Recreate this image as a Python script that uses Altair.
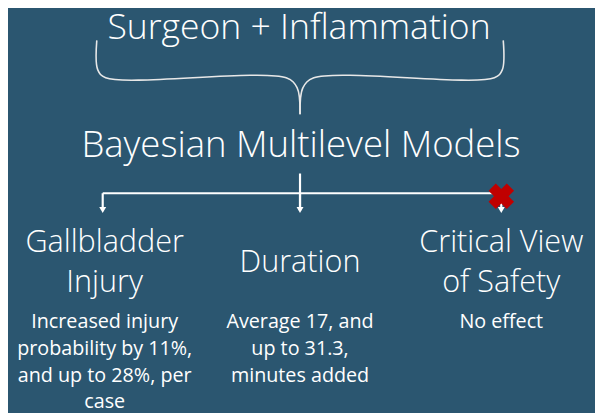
import altair as alt
import pandas as pd

BG = "#2B5670"
FG = "#FFFFFF"
LINE = "#E8E8E8"
FONT = "Open Sans"

# ---- text content ----
text_labels = [
    "Surgeon + Inflammation",
    "Bayesian Multilevel Models",
    "Gallbladder", "Injury",
    "Duration",
    "Critical View", "of Safety",
    "Increased injury", "probability by 11%,", "and up to 28%, per", "case",
    "Average 17, and", "up to 31.3,", "minutes added",
    "No effect",
]
text_x = [303, 305, 106, 106, 304, 508, 508, 106, 106, 106, 106, 304, 304, 304, 508]
text_y = [37, 156, 253, 293, 273, 253, 293, 330, 357, 384, 411, 330, 357, 384, 330]
text_size = [36, 37, 31, 31, 31, 31, 31, 20, 20, 20, 20, 20, 20, 20, 20]
text_weight = [300, 300, 300, 300, 300, 300, 300, 400, 400, 400, 400, 400, 400, 400, 400]

# ---- brace (two arms) ----
brace_arm = ["L"] * 6 + ["R"] * 6
brace_order = list(range(6)) * 2
brace_x = [98, 99, 107, 290, 301, 304, 510, 509, 501, 318, 307, 304]
brace_y = [38, 68, 76, 76, 86, 113, 38, 68, 76, 76, 86, 113]

# ---- connector lines ----
seg_x = [304, 104, 104, 304, 508]
seg_x2 = [304, 508, 104, 304, 508]
seg_y = [173, 193, 193, 193, 193]
seg_y2 = [211, 193, 209, 209, 209]

arrow_x = [104, 304, 508]
arrow_y = [210, 210, 210]

cross_x = [508]
cross_y = [196]

texts = pd.DataFrame({"t": text_labels, "x": text_x, "y": text_y, "s": text_size,
                      "w": text_weight})
brace = pd.DataFrame({"arm": brace_arm, "o": brace_order, "x": brace_x, "y": brace_y})
segs = pd.DataFrame({"x": seg_x, "x2": seg_x2, "y": seg_y, "y2": seg_y2})
arrows = pd.DataFrame({"x": arrow_x, "y": arrow_y})
cross = pd.DataFrame({"x": cross_x, "y": cross_y})

W, H = 595, 405
xs = alt.Scale(domain=[8, 8 + W], nice=False, zero=False)
ys = alt.Scale(domain=[8, 8 + H], nice=False, zero=False, reverse=True)
X = lambda f: alt.X(f, type="quantitative", scale=xs, axis=None)
Y = lambda f: alt.Y(f, type="quantitative", scale=ys, axis=None)

brace_layer = alt.Chart(brace).mark_line(
    color=LINE, strokeWidth=1.6, interpolate="catmull-rom"
).encode(x=X("x"), y=Y("y"), detail="arm:N", order="o:Q")

seg_layer = alt.Chart(segs).mark_rule(color=FG, strokeWidth=2.2).encode(
    x=X("x"), x2="x2:Q", y=Y("y"), y2="y2:Q"
)

arrow_layer = alt.Chart(arrows).mark_point(
    shape="triangle-down", filled=True, color=FG, size=50, opacity=1
).encode(x=X("x"), y=Y("y"))

cross_layer = alt.Chart(cross).mark_point(
    shape="cross", angle=45, filled=True, color="#C00000", size=680, opacity=1
).encode(x=X("x"), y=Y("y"))

def text_layer(weight):
    return alt.Chart(texts).transform_filter(alt.datum.w == weight).mark_text(
        color=FG, font=FONT, baseline="alphabetic", align="center", fontWeight=weight
    ).encode(
        x=X("x"), y=Y("y"), text="t:N", size=alt.Size("s:Q", scale=None, legend=None)
    )

chart = alt.layer(
    brace_layer, seg_layer, arrow_layer, cross_layer, text_layer(300), text_layer(400)
).properties(
    width=W, height=H, autosize=alt.AutoSizeParams(type="none"), padding=0,
    background=BG
).configure_view(stroke=None)

chart.save("out.html", embed_options={"renderer": "svg", "actions": False})
